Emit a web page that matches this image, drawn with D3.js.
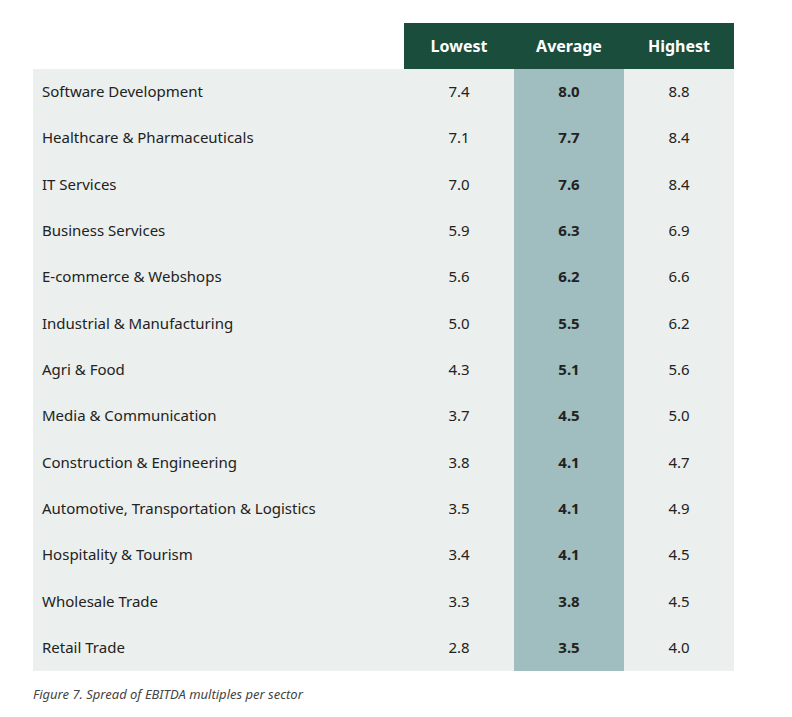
<!DOCTYPE html>
<html><head><meta charset="utf-8">
<script src="https://cdn.jsdelivr.net/npm/d3@7"></script>
<style>body{margin:0;background:#fff;font-family:"Noto Sans",sans-serif;}</style>
</head><body>
<svg id="chart" width="792" height="717"></svg>
<script>
const sectors = ["Software Development","Healthcare & Pharmaceuticals","IT Services","Business Services","E-commerce & Webshops","Industrial & Manufacturing","Agri & Food","Media & Communication","Construction & Engineering","Automotive, Transportation & Logistics","Hospitality & Tourism","Wholesale Trade","Retail Trade"];
const lowest  = [7.4,7.1,7.0,5.9,5.6,5.0,4.3,3.7,3.8,3.5,3.4,3.3,2.8];
const average = [8.0,7.7,7.6,6.3,6.2,5.5,5.1,4.5,4.1,4.1,4.1,3.8,3.5];
const highest = [8.8,8.4,8.4,6.9,6.6,6.2,5.6,5.0,4.7,4.9,4.5,4.5,4.0];
const columns = ["Lowest","Average","Highest"];

const svg = d3.select('#chart');
const tLeft = 33, tRight = 734, tTop = 23, headH = 46, tBottom = 671;

const x = d3.scaleBand().domain(columns).range([404, tRight]);
const y = d3.scaleBand().domain(sectors).range([tTop + headH, tBottom]);

// body background
svg.append('rect').attr('x', tLeft).attr('y', tTop + headH)
    .attr('width', tRight - tLeft).attr('height', tBottom - tTop - headH).attr('fill', '#ebefed');
svg.append('rect').attr('x', x('Average')).attr('y', tTop + headH)
    .attr('width', x.bandwidth()).attr('height', tBottom - tTop - headH).attr('fill', '#a0bdbf');

// header
svg.append('rect').attr('x', 404).attr('y', tTop)
    .attr('width', tRight - 404).attr('height', headH).attr('fill', '#1a4d3c');
svg.selectAll('text.head').data(columns).enter().append('text')
    .attr('x', d => x(d) + x.bandwidth() / 2).attr('y', tTop + headH / 2 + 6)
    .attr('text-anchor', 'middle').attr('fill', '#fff')
    .attr('font-size', 16).attr('font-weight', 'bold').text(d => d);

const rows = svg.selectAll('g.row').data(sectors).enter().append('g')
    .attr('transform', d => `translate(0,${y(d) + y.bandwidth() / 2 + 5})`);
rows.append('text').attr('x', 42).attr('font-size', 15).attr('fill', '#222').text(d => d);
const vals = [lowest, average, highest];
columns.forEach((c, ci) => {
    rows.append('text')
        .attr('x', x(c) + x.bandwidth() / 2).attr('text-anchor', 'middle')
        .attr('font-size', 15).attr('fill', '#222')
        .attr('font-weight', ci === 1 ? 'bold' : null)
        .text((d, i) => vals[ci][i].toFixed(1));
});

svg.append('text').attr('x', 33).attr('y', 699).attr('font-size', 13)
    .attr('font-style', 'italic').attr('fill', '#444')
    .text('Figure 7. Spread of EBITDA multiples per sector');
</script>
</body></html>
